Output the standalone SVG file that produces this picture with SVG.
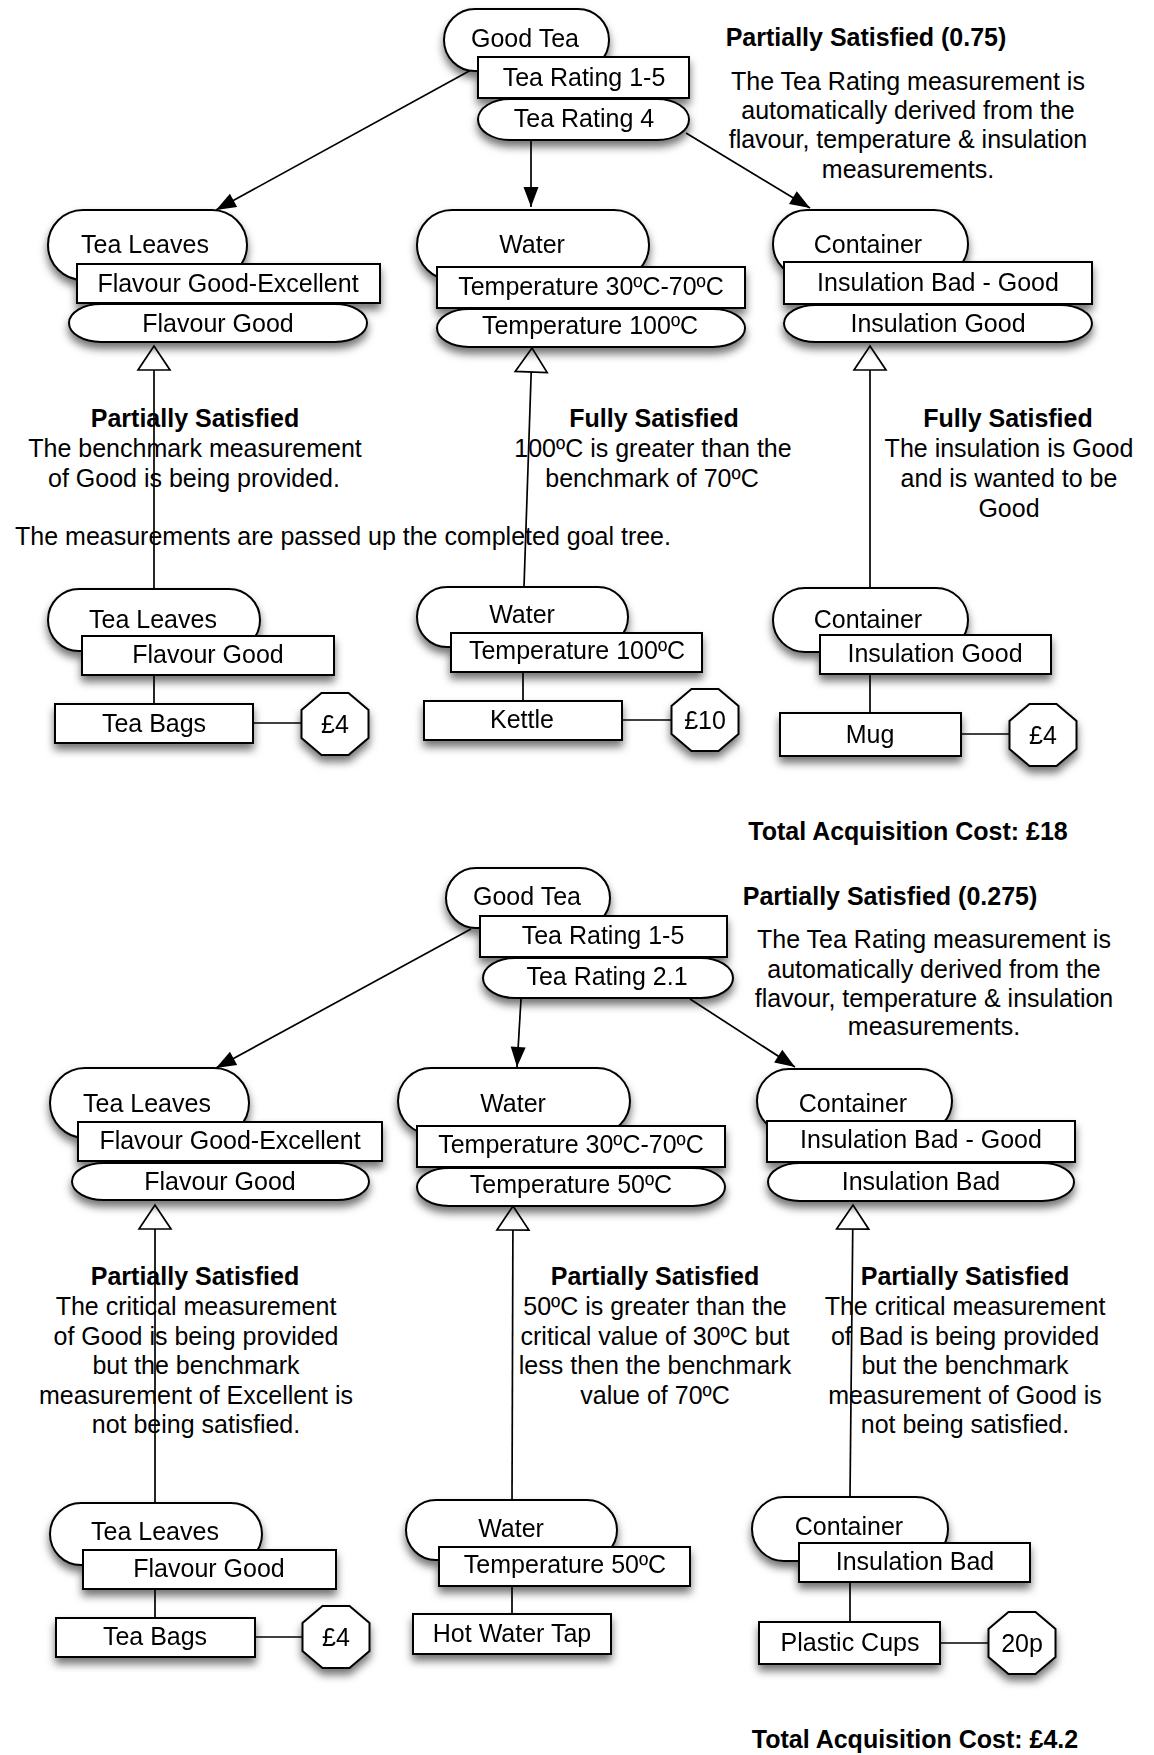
<svg xmlns="http://www.w3.org/2000/svg" xmlns:xlink="http://www.w3.org/1999/xlink" width="1154" height="1755" viewBox="0 0 1154 1755">
  <style>
    .s { fill: #fff; stroke: #000; stroke-width: 2; }
    .c { fill: none; stroke: #000; stroke-width: 1.7; }
    text { font-family: "Liberation Sans", Arial, Helvetica, sans-serif; font-size: 25px; fill: #000; text-anchor: middle; }
    .b { font-weight: bold; }
    .node { filter: url(#shadow); }
  </style>
  <defs>
    <filter id="shadow" x="-20%" y="-20%" width="140%" height="160%">
      <feDropShadow dx="0" dy="6" stdDeviation="4" flood-color="#000" flood-opacity="0.55"/>
    </filter>
    <marker id="arrow" markerUnits="userSpaceOnUse" markerWidth="22" markerHeight="16" refX="20" refY="7.5" orient="auto" overflow="visible">
      <path d="M0,0 L20,7.5 L0,15 z" fill="#000"/>
    </marker>
    <marker id="hollow" markerUnits="userSpaceOnUse" markerWidth="30" markerHeight="36" refX="25" refY="18" orient="auto" overflow="visible">
      <path d="M1,2 L25,18 L1,34 z" fill="#fff" stroke="#000" stroke-width="1.7"/>
    </marker>
    <polygon id="oct" class="s" points="-13.5,-31 13.5,-31 33.5,-14 33.5,14 13.5,31 -13.5,31 -33.5,14 -33.5,-14"/>
  </defs>

  <!-- connectors -->
  <g id="connectors">
    <!-- upper tree: goal decomposition -->
    <path class="c" d="M471,70 L216,210" marker-end="url(#arrow)"/>
    <path class="c" d="M531,140 L531,207" marker-end="url(#arrow)"/>
    <path class="c" d="M686,133 L810,208" marker-end="url(#arrow)"/>
    <!-- upper tree: completed goals -->
    <path class="c" d="M154,589 L154,346" marker-end="url(#hollow)"/>
    <path class="c" d="M524,587 L532,348" marker-end="url(#hollow)"/>
    <path class="c" d="M870,588 L870,346" marker-end="url(#hollow)"/>
    <!-- upper tree: resources and costs -->
    <path class="c" d="M154,675 L154,704"/>
    <path class="c" d="M253,723 L302,723"/>
    <path class="c" d="M523,672 L523,701"/>
    <path class="c" d="M622,720 L672,720"/>
    <path class="c" d="M870,674 L870,713"/>
    <path class="c" d="M961,734 L1010,734"/>

    <!-- lower tree: goal decomposition -->
    <path class="c" d="M471,929 L216,1068" marker-end="url(#arrow)"/>
    <path class="c" d="M521,999 L517,1067" marker-end="url(#arrow)"/>
    <path class="c" d="M690,999 L795,1067" marker-end="url(#arrow)"/>
    <!-- lower tree: completed goals -->
    <path class="c" d="M155,1503 L155,1205" marker-end="url(#hollow)"/>
    <path class="c" d="M512,1500 L513,1206" marker-end="url(#hollow)"/>
    <path class="c" d="M850,1497 L853,1205" marker-end="url(#hollow)"/>
    <!-- lower tree: resources and costs -->
    <path class="c" d="M155,1589 L155,1618"/>
    <path class="c" d="M255,1637 L303,1637"/>
    <path class="c" d="M512,1586 L512,1614"/>
    <path class="c" d="M850,1582 L850,1622"/>
    <path class="c" d="M940,1643 L989,1643"/>
  </g>

  <!-- upper tree: goals -->
  <g id="good-tea-1" class="node">
    <rect class="s" x="444" y="9" width="165" height="62" rx="31"/>
    <text x="525" y="47">Good Tea</text>
    <rect class="s" x="478" y="57" width="211" height="41"/>
    <text x="584" y="86">Tea Rating 1-5</text>
    <rect class="s" x="478" y="99" width="211" height="41" rx="32" ry="20.5"/>
    <text x="584" y="127">Tea Rating 4</text>
  </g>

  <g id="tea-leaves-1" class="node">
    <rect class="s" x="48" y="210" width="199" height="70" rx="35"/>
    <text x="145" y="253">Tea Leaves</text>
    <rect class="s" x="77" y="264" width="303" height="39"/>
    <text x="228" y="292">Flavour Good-Excellent</text>
    <rect class="s" x="69" y="304" width="298" height="38" rx="32" ry="19"/>
    <text x="218" y="332">Flavour Good</text>
  </g>

  <g id="water-1" class="node">
    <rect class="s" x="417" y="210" width="232" height="70" rx="35"/>
    <text x="532" y="253">Water</text>
    <rect class="s" x="437" y="267" width="308" height="41"/>
    <text x="591" y="295">Temperature 30ºC-70ºC</text>
    <rect class="s" x="437" y="309" width="308" height="38" rx="32" ry="19"/>
    <text x="590" y="334">Temperature 100ºC</text>
  </g>

  <g id="container-1" class="node">
    <rect class="s" x="773" y="210" width="195" height="68" rx="34"/>
    <text x="868" y="253">Container</text>
    <rect class="s" x="784" y="262" width="308" height="42"/>
    <text x="938" y="291">Insulation Bad - Good</text>
    <rect class="s" x="784" y="305" width="308" height="37" rx="32" ry="18.5"/>
    <text x="938" y="332">Insulation Good</text>
  </g>

  <!-- upper tree: completed goals, resources, costs -->
  <g id="tea-leaves-1-done" class="node">
    <rect class="s" x="48" y="589" width="212" height="62" rx="31"/>
    <text x="153" y="628">Tea Leaves</text>
    <rect class="s" x="82" y="636" width="252" height="39"/>
    <text x="208" y="663">Flavour Good</text>
  </g>
  <g id="tea-bags-1" class="node">
    <rect class="s" x="55" y="704" width="198" height="39"/>
    <text x="154" y="732">Tea Bags</text>
  </g>
  <g id="cost-tea-bags-1" class="node">
    <use xlink:href="#oct" x="335" y="724"/>
    <text x="335" y="733">£4</text>
  </g>

  <g id="water-1-done" class="node">
    <rect class="s" x="417" y="587" width="211" height="60" rx="30"/>
    <text x="522" y="623">Water</text>
    <rect class="s" x="451" y="633" width="251" height="39"/>
    <text x="577" y="659">Temperature 100ºC</text>
  </g>
  <g id="kettle-1" class="node">
    <rect class="s" x="424" y="701" width="198" height="39"/>
    <text x="522" y="728">Kettle</text>
  </g>
  <g id="cost-kettle-1" class="node">
    <use xlink:href="#oct" x="705" y="720"/>
    <text x="705" y="729">£10</text>
  </g>

  <g id="container-1-done" class="node">
    <rect class="s" x="773" y="588" width="195" height="64" rx="32"/>
    <text x="868" y="628">Container</text>
    <rect class="s" x="820" y="635" width="231" height="39"/>
    <text x="935" y="662">Insulation Good</text>
  </g>
  <g id="mug-1" class="node">
    <rect class="s" x="780" y="713" width="181" height="43"/>
    <text x="870" y="743">Mug</text>
  </g>
  <g id="cost-mug-1" class="node">
    <use xlink:href="#oct" x="1043" y="735"/>
    <text x="1043" y="744">£4</text>
  </g>

  <!-- lower tree: goals -->
  <g id="good-tea-2" class="node">
    <rect class="s" x="446" y="868" width="164" height="60" rx="30"/>
    <text x="527" y="905">Good Tea</text>
    <rect class="s" x="480" y="916" width="247" height="41"/>
    <text x="603" y="944">Tea Rating 1-5</text>
    <rect class="s" x="483" y="958" width="250" height="40" rx="32" ry="20"/>
    <text x="607" y="985">Tea Rating 2.1</text>
  </g>

  <g id="tea-leaves-2" class="node">
    <rect class="s" x="50" y="1068" width="199" height="70" rx="35"/>
    <text x="147" y="1112">Tea Leaves</text>
    <rect class="s" x="78" y="1122" width="304" height="39"/>
    <text x="230" y="1149">Flavour Good-Excellent</text>
    <rect class="s" x="72" y="1163" width="297" height="37" rx="32" ry="18.5"/>
    <text x="220" y="1190">Flavour Good</text>
  </g>

  <g id="water-2" class="node">
    <rect class="s" x="398" y="1068" width="232" height="66" rx="33"/>
    <text x="513" y="1112">Water</text>
    <rect class="s" x="417" y="1126" width="308" height="41"/>
    <text x="571" y="1153">Temperature 30ºC-70ºC</text>
    <rect class="s" x="417" y="1168" width="308" height="38" rx="32" ry="19"/>
    <text x="571" y="1193">Temperature 50ºC</text>
  </g>

  <g id="container-2" class="node">
    <rect class="s" x="757" y="1069" width="195" height="64" rx="32"/>
    <text x="853" y="1112">Container</text>
    <rect class="s" x="767" y="1121" width="308" height="41"/>
    <text x="921" y="1148">Insulation Bad - Good</text>
    <rect class="s" x="768" y="1163" width="306" height="38" rx="32" ry="19"/>
    <text x="921" y="1190">Insulation Bad</text>
  </g>

  <!-- lower tree: completed goals, resources, costs -->
  <g id="tea-leaves-2-done" class="node">
    <rect class="s" x="50" y="1503" width="212" height="62" rx="31"/>
    <text x="155" y="1540">Tea Leaves</text>
    <rect class="s" x="83" y="1550" width="253" height="39"/>
    <text x="209" y="1577">Flavour Good</text>
  </g>
  <g id="tea-bags-2" class="node">
    <rect class="s" x="56" y="1618" width="199" height="39"/>
    <text x="155" y="1645">Tea Bags</text>
  </g>
  <g id="cost-tea-bags-2" class="node">
    <use xlink:href="#oct" x="336" y="1637"/>
    <text x="336" y="1646">£4</text>
  </g>

  <g id="water-2-done" class="node">
    <rect class="s" x="406" y="1500" width="211" height="60" rx="30"/>
    <text x="511" y="1537">Water</text>
    <rect class="s" x="439" y="1547" width="251" height="39"/>
    <text x="565" y="1573">Temperature 50ºC</text>
  </g>
  <g id="hot-water-tap-2" class="node">
    <rect class="s" x="413" y="1614" width="198" height="40"/>
    <text x="512" y="1642">Hot Water Tap</text>
  </g>

  <g id="container-2-done" class="node">
    <rect class="s" x="752" y="1497" width="196" height="64" rx="32"/>
    <text x="849" y="1535">Container</text>
    <rect class="s" x="799" y="1543" width="231" height="39"/>
    <text x="915" y="1570">Insulation Bad</text>
  </g>
  <g id="plastic-cups-2" class="node">
    <rect class="s" x="759" y="1622" width="181" height="42"/>
    <text x="850" y="1651">Plastic Cups</text>
  </g>
  <g id="cost-plastic-cups-2" class="node">
    <use xlink:href="#oct" x="1022" y="1643"/>
    <text x="1022" y="1652">20p</text>
  </g>

  <!-- annotations -->
  <g id="notes-1">
    <text class="b" x="866" y="46">Partially Satisfied (0.75)</text>
    <text x="908" y="90">The Tea Rating measurement is</text>
    <text x="908" y="119">automatically derived from the</text>
    <text x="908" y="148">flavour, temperature &amp; insulation</text>
    <text x="908" y="178">measurements.</text>

    <text class="b" x="195" y="427">Partially Satisfied</text>
    <text x="195" y="457">The benchmark measurement</text>
    <text x="194" y="487">of Good is being provided.</text>
    <text x="343" y="545">The measurements are passed up the completed goal tree.</text>

    <text class="b" x="654" y="427">Fully Satisfied</text>
    <text x="653" y="457">100ºC is greater than the</text>
    <text x="652" y="487">benchmark of 70ºC</text>

    <text class="b" x="1008" y="427">Fully Satisfied</text>
    <text x="1009" y="457">The insulation is Good</text>
    <text x="1009" y="487">and is wanted to be</text>
    <text x="1009" y="517">Good</text>

    <text class="b" x="908" y="840">Total Acquisition Cost: £18</text>
  </g>

  <g id="notes-2">
    <text class="b" x="890" y="905">Partially Satisfied (0.275)</text>
    <text x="934" y="948">The Tea Rating measurement is</text>
    <text x="934" y="978">automatically derived from the</text>
    <text x="934" y="1007">flavour, temperature &amp; insulation</text>
    <text x="934" y="1035">measurements.</text>

    <text class="b" x="195" y="1285">Partially Satisfied</text>
    <text x="196" y="1315">The critical measurement</text>
    <text x="196" y="1345">of Good is being provided</text>
    <text x="196" y="1374">but the benchmark</text>
    <text x="196" y="1404">measurement of Excellent is</text>
    <text x="196" y="1433">not being satisfied.</text>

    <text class="b" x="655" y="1285">Partially Satisfied</text>
    <text x="655" y="1315">50ºC is greater than the</text>
    <text x="655" y="1345">critical value of 30ºC but</text>
    <text x="655" y="1374">less then the benchmark</text>
    <text x="655" y="1404">value of 70ºC</text>

    <text class="b" x="965" y="1285">Partially Satisfied</text>
    <text x="965" y="1315">The critical measurement</text>
    <text x="965" y="1345">of Bad is being provided</text>
    <text x="965" y="1374">but the benchmark</text>
    <text x="965" y="1404">measurement of Good is</text>
    <text x="965" y="1433">not being satisfied.</text>

    <text class="b" x="915" y="1748">Total Acquisition Cost: £4.2</text>
  </g>
</svg>
